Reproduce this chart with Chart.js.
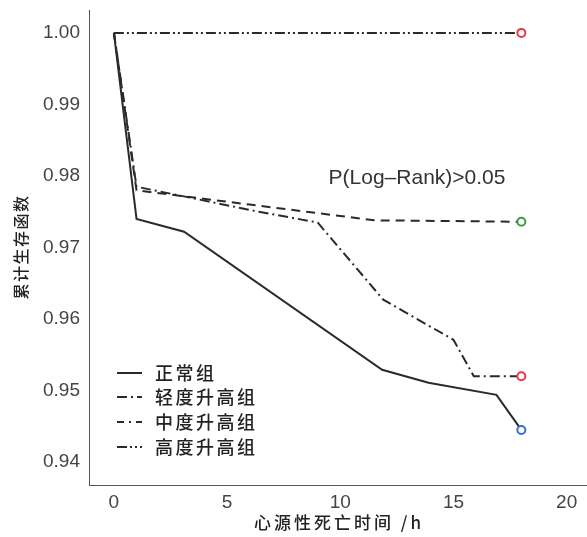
<!DOCTYPE html>
<html>
<head>
<meta charset="utf-8">
<script src="https://cdn.jsdelivr.net/npm/chart.js@4.4.1/dist/chart.umd.min.js"></script>
<style>
html,body{margin:0;padding:0;background:#fff;}
#wrap{position:relative;width:587px;height:537px;}
</style>
</head>
<body>
<div id="wrap"><canvas id="c" width="587" height="537"></canvas></div>
<script>
// ---- data ----
const groupNames = ['正常组', '轻度升高组', '中度升高组', '高度升高组'];
const timeNormal = [0, 1, 3.1, 11.85, 13.9, 16.9, 18];
const survNormal = [1.0, 0.974, 0.9722, 0.9529, 0.9511, 0.9494, 0.9445];
const timeMild = [0, 1, 6.4, 9.0, 11.9, 15.0, 15.9, 18];
const survMild = [1.0, 0.9785, 0.975, 0.9735, 0.9627, 0.9571, 0.952, 0.952];
const timeModerate = [0, 1, 6.0, 9.0, 11.5, 18];
const survModerate = [1.0, 0.978, 0.976, 0.9748, 0.9738, 0.9736];
const timeHigh = [0, 18];
const survHigh = [1.0, 1.0];
const xTickValues = [0, 5, 10, 15, 20];
const yTickValues = [0.94, 0.95, 0.96, 0.97, 0.98, 0.99, 1.00];
const xTitle = '心源性死亡时间 /h';
const yTitle = '累计生存函数';
const pText = 'P(Log\u2013Rank)>0.05';

// ---- styles ----
const lineColor = '#2a2a2a';
const markerColors = ['#3a6fd6', '#e23b45', '#3f9a3f', '#e23b45'];
const dashes = [[], [10, 4, 2, 4], [9, 6], [10, 3, 2, 3, 2, 3]];
const legendDashes = [[], [10, 4, 2, 4], [7, 5, 2, 5], [10, 3, 2, 3, 2, 3]];
const cjk = '"Noto Sans CJK SC", "Liberation Sans", sans-serif';
const latin = '"Liberation Sans", Arial, sans-serif';

function toPts(t, s) { return t.map((v, i) => ({x: v, y: s[i]})); }
const series = [
  toPts(timeNormal, survNormal),
  toPts(timeMild, survMild),
  toPts(timeModerate, survModerate),
  toPts(timeHigh, survHigh)
];

const datasets = series.map((pts, k) => ({
  label: groupNames[k],
  data: pts,
  borderColor: lineColor,
  borderWidth: 2,
  borderDash: dashes[k],
  tension: 0,
  fill: false,
  pointRadius: ctx => ctx.dataIndex === pts.length - 1 ? 4 : 0,
  pointHoverRadius: 0,
  pointBorderColor: markerColors[k],
  pointBackgroundColor: '#fff',
  pointBorderWidth: 2
}));

const areaFix = {
  id: 'areaFix',
  afterLayout(chart) {
    const right = 587;
    chart.chartArea.right = right;
    chart.chartArea.width = right - chart.chartArea.left;
    const x = chart.scales.x;
    x.right = right;
    x.width = right - x.left;
    x.configure();
  }
};

const overlay = {
  id: 'overlay',
  afterDraw(chart) {
    const ctx = chart.ctx;
    ctx.save();
    // annotation
    ctx.fillStyle = '#333';
    ctx.font = '21px ' + latin;
    ctx.textAlign = 'center';
    ctx.textBaseline = 'middle';
    ctx.fillText(pText, 417, 178);
    // legend
    const rowY = [373, 397, 422, 447];
    for (let k = 0; k < groupNames.length; k++) {
      ctx.beginPath();
      ctx.setLineDash(legendDashes[k]);
      ctx.strokeStyle = lineColor;
      ctx.lineWidth = 2;
      ctx.moveTo(117, rowY[k]);
      ctx.lineTo(142, rowY[k]);
      ctx.stroke();
      ctx.setLineDash([]);
      ctx.font = '500 18px ' + cjk;
      ctx.letterSpacing = '2.5px';
      ctx.textAlign = 'left';
      ctx.fillStyle = '#222';
      ctx.fillText(groupNames[k], 155, rowY[k]);
    }
    // x title
    ctx.font = '500 17px ' + cjk;
    ctx.letterSpacing = '3px';
    ctx.textAlign = 'center';
    ctx.fillText(xTitle, 339, 523);
    // y title
    ctx.translate(21, 247);
    ctx.rotate(-Math.PI / 2);
    ctx.font = '500 16px ' + cjk;
    ctx.letterSpacing = '1.5px';
    ctx.fillText(yTitle, 0, 0);
    ctx.restore();
  }
};

new Chart(document.getElementById('c'), {
  type: 'line',
  data: {datasets},
  options: {
    responsive: false,
    animation: false,
    devicePixelRatio: 1,
    layout: {padding: {top: 10, right: 0, left: 0, bottom: 0}},
    plugins: {legend: {display: false}, tooltip: {enabled: false}},
    scales: {
      x: {
        type: 'linear',
        min: -1.1,
        max: 20.9,
        grid: {display: false, drawTicks: false},
        border: {display: true, color: '#555', width: 1},
        afterBuildTicks: s => { s.ticks = xTickValues.map(v => ({value: v})); },
        afterFit: s => { s.height = 52; s.paddingLeft = 0; s.paddingRight = 0; },
        ticks: {
          padding: 6,
          color: '#444',
          font: {family: latin, size: 19},
          maxRotation: 0,
          callback: v => String(v)
        }
      },
      y: {
        type: 'linear',
        min: 0.9368,
        max: 1.0032,
        grid: {display: false, drawTicks: false},
        border: {display: true, color: '#555', width: 1},
        afterBuildTicks: s => { s.ticks = yTickValues.map(v => ({value: v})); },
        afterFit: s => { s.width = 89; s.paddingTop = 0; s.paddingBottom = 0; },
        ticks: {
          padding: 9,
          color: '#444',
          font: {family: latin, size: 19},
          callback: v => Number(v).toFixed(2)
        }
      }
    }
  },
  plugins: [areaFix, overlay]
});
</script>
</body>
</html>
